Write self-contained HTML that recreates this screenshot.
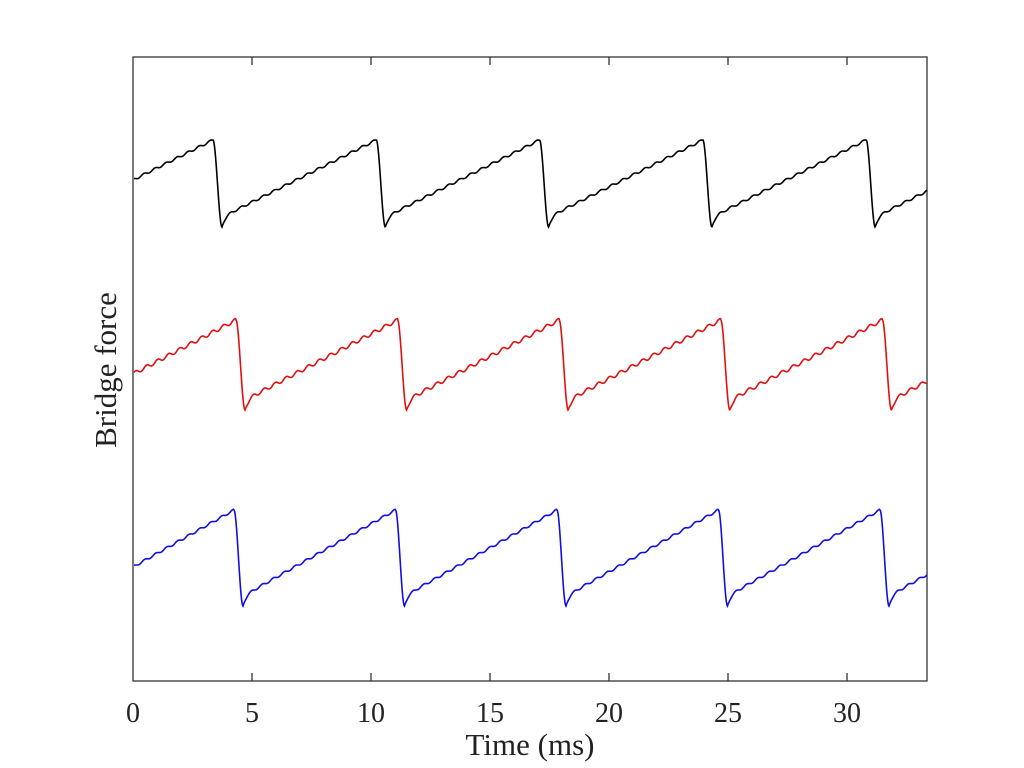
<!DOCTYPE html>
<html><head><meta charset="utf-8"><style>
body{margin:0;background:#fff;width:1024px;height:768px;overflow:hidden}
svg{display:block}
text{font-family:"Liberation Serif",serif;fill:#222}
</style></head><body>
<svg id="s" width="1024" height="768" xmlns="http://www.w3.org/2000/svg">
<rect x="133" y="57" width="794" height="624" fill="none" stroke="#333" stroke-width="1.3"/>
<g stroke="#333" stroke-width="1.3">
<line x1="252" y1="681" x2="252" y2="673"/><line x1="371" y1="681" x2="371" y2="673"/>
<line x1="490" y1="681" x2="490" y2="673"/><line x1="609" y1="681" x2="609" y2="673"/>
<line x1="728" y1="681" x2="728" y2="673"/><line x1="847" y1="681" x2="847" y2="673"/>
<line x1="252" y1="57" x2="252" y2="65"/><line x1="371" y1="57" x2="371" y2="65"/>
<line x1="490" y1="57" x2="490" y2="65"/><line x1="609" y1="57" x2="609" y2="65"/>
<line x1="728" y1="57" x2="728" y2="65"/><line x1="847" y1="57" x2="847" y2="65"/>
</g>
<g font-size="28" text-anchor="middle">
<text x="133" y="722">0</text><text x="252" y="722">5</text><text x="371" y="722">10</text>
<text x="490" y="722">15</text><text x="609" y="722">20</text><text x="728" y="722">25</text><text x="847" y="722">30</text>
<text x="530" y="755" font-size="31">Time (ms)</text>
<text transform="translate(116,370) rotate(-90)" font-size="31">Bridge force</text>
</g>
<g id="lines" fill="none" stroke-width="1.6"></g>
</svg>
<script>
function series(d0,per,peak,min,amp,col){
  var pts=[];
  for(var x=134;x<=927;x+=0.5){
    var k=Math.floor((x-d0)/per);
    var d=d0+k*per; var t=x-d;
    var y;
    if(t<9){
      var f=t/9; f=f*f*(3-2*f);
      y=peak+(min-peak)*f;
    } else {
      var low=min-10;
      var r=(t-9)/(per-9);
      y=low+(peak-low)*r;
      y+= (t<24? (min-low)*Math.exp(-(t-9)/3):0);
      y+= amp*Math.sin((t-9)*2*Math.PI/11);
    }
    pts.push(x.toFixed(1)+","+y.toFixed(1));
  }
  var p=document.createElementNS("http://www.w3.org/2000/svg","polyline");
  p.setAttribute("points",pts.join(" "));p.setAttribute("stroke",col);
  document.getElementById("lines").appendChild(p);
}
series(213,163.3,140,227,1.1,"#000");
series(236,161.6,320,410,1.8,"#e01010");
series(234,161.5,510,606,1.1,"#1010e0");
</script>
</body></html>
